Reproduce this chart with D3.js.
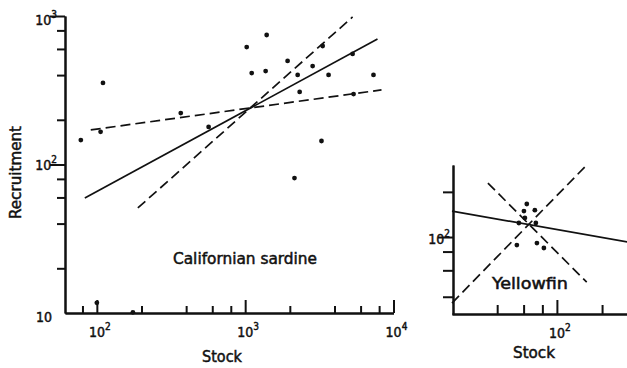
<!DOCTYPE html>
<html>
<head>
<meta charset="utf-8">
<script src="https://cdn.jsdelivr.net/npm/d3@7"></script>
<style>
  body { margin: 0; background: #fff; }
  svg { display: block; }
  text { font-family: "DejaVu Sans Condensed", "DejaVu Sans", sans-serif; font-stretch: condensed; fill: #111; stroke: #111; stroke-width: 0.45; }
  .axis path, .axis line { stroke: #111; stroke-width: 2; }
</style>
</head>
<body>
<svg></svg>
<script>
let width = 627;
let height = 368;

// Californian sardine (stock, recruitment)
let sardineStock = [78, 110, 106, 368, 567, 1024, 1396, 1107, 1374, 1932, 2259, 2330, 2850, 3330, 3650, 5300, 7330, 5380, 3270, 2150, 100, 175];
let sardineRecruit = [146, 354, 166, 222, 179, 618, 745, 413, 426, 498, 401, 308, 460, 628, 401, 555, 401, 298, 144, 81, 11.7, 10.1];

// fitted lines, as [stock, recruitment] end points
let sardineSolid = [[83, 59.4], [7800, 700]];
let sardineSteep = [[189, 51], [5300, 985]];
let sardineFlat = [[91, 171], [8300, 318]];

// Yellowfin
let tunaStock = [63, 60.3, 71.3, 61.2, 55.8, 72.4, 54.1, 73.6, 81.9];
let tunaRecruit = [166, 149, 151, 134, 124, 124, 88.4, 91.2, 84.5];

let tunaSolid = [[20, 149], [300, 92.4]];
let tunaRising = [[20, 36.3], [158, 302]];
let tunaFalling = [[34.7, 229], [158, 50]];

// ticks
let sardineXMajor = [100, 1000, 10000];
let sardineXMinor = [80, 200, 400, 600, 800, 2000, 4000, 6000, 8000];
let sardineYMajor = [100, 1000];
let sardineYMinor = [20, 40, 60, 80, 200, 400, 600, 800];
let tunaXMajor = [100];
let tunaXMinor = [40, 60, 80, 200];
let tunaYMajor = [100];
let tunaYMinor = [40, 60, 80, 200];

let svg = d3.select('svg')
    .attr('width', width)
    .attr('height', height);

// scales
let x1 = d3.scaleLog().domain([61, 10000]).range([65, 393.5]);
let y1 = d3.scaleLog().domain([10, 1000]).range([313, 16]);
let x2 = d3.scaleLog().domain([20, 300]).range([452, 628.5]);
let y2 = d3.scaleLog().domain([30.7, 302]).range([314, 165]);

let line = (sx, sy) => d3.line().x(d => sx(d[0])).y(d => sy(d[1]));

// draws an axis with inward ticks, major ones longer
// (negative size = ticks point into the plot)
function drawAxis(gen, scale, major, minor, bigSize, smallSize, tx, ty) {
    [[minor, smallSize], [major, bigSize]].forEach(([vals, size]) => {
        svg.append('g')
            .classed('axis', true)
            .attr('transform', `translate(${tx},${ty})`)
            .call(gen(scale).tickValues(vals).tickSize(-size).tickSizeOuter(0).tickFormat(''));
    });
}

// power of ten label, e.g. 10 with superscript
function powerLabel(x, y, exp, anchor) {
    let t = svg.append('text')
        .attr('x', x)
        .attr('y', y)
        .attr('text-anchor', anchor)
        .style('font-size', '14px');
    t.append('tspan').text('10');
    if (exp) {
        t.append('tspan').text(exp).attr('dy', -7).style('font-size', '10px');
    }
}

function label(txt, x, y, len) {
    return svg.append('text')
        .attr('x', x).attr('y', y)
        .attr('textLength', len).attr('lengthAdjust', 'spacingAndGlyphs')
        .style('font-size', '15px')
        .text(txt);
}

function drawLines(lines, sx, sy) {
    lines.forEach((d, i) => {
        svg.append('path')
            .datum(d)
            .attr('d', line(sx, sy))
            .attr('fill', 'none')
            .attr('stroke', '#111')
            .attr('stroke-width', 1.7)
            .attr('stroke-dasharray', i === 0 ? null : '10,5');
    });
}

function drawDots(xs, ys, sx, sy) {
    svg.append('g')
        .selectAll('circle')
        .data(xs)
        .enter()
        .append('circle')
        .attr('cx', d => sx(d))
        .attr('cy', (d, i) => sy(ys[i]))
        .attr('r', 2.4)
        .attr('fill', '#111');
}

// ---- Californian sardine panel ----
drawAxis(d3.axisBottom, x1, sardineXMajor, sardineXMinor, 13, 7, 0, 313);
drawAxis(d3.axisRight, y1, sardineYMajor, sardineYMinor, 15, 8, 65, 0);

sardineXMajor.forEach(v => powerLabel(x1(v) + 3, 337, Math.round(Math.log10(v)), 'middle'));
powerLabel(57, 25, 3, 'end');
powerLabel(57, 170, 2, 'end');
powerLabel(52, 322, null, 'end');

drawLines([sardineSolid, sardineSteep, sardineFlat], x1, y1);
drawDots(sardineStock, sardineRecruit, x1, y1);

label('Californian sardine', 173, 264, 144);
label('Stock', 202, 362, 40);
label('Recruitment', 0, 0, 93)
    .attr('transform', 'translate(21,219) rotate(-90)');

// ---- Yellowfin panel ----
drawAxis(d3.axisBottom, x2, tunaXMajor, tunaXMinor, 14, 9, 0, 314);
drawAxis(d3.axisRight, y2, tunaYMajor, tunaYMinor, 15, 10, 453, 0);

powerLabel(x2(100) + 3, 338, 2, 'middle');
powerLabel(450, 244, 2, 'end');

drawLines([tunaSolid, tunaRising, tunaFalling], x2, y2);
drawDots(tunaStock, tunaRecruit, x2, y2);

label('Yellowfin', 492, 289, 76);
label('Stock', 513, 358, 42);
</script>
</body>
</html>
